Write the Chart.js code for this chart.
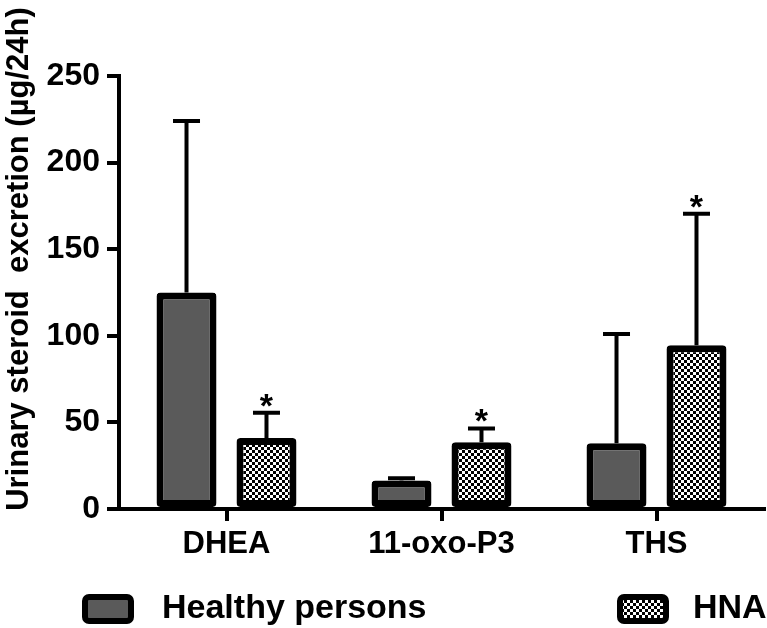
<!DOCTYPE html>
<html>
<head>
<meta charset="utf-8">
<script src="https://cdn.jsdelivr.net/npm/chart.js@4.4.0/dist/chart.umd.min.js"></script>
<style>
    body { margin: 0; background: #ffffff; }
    canvas { display: block; }
</style>
</head>
<body>
<canvas id="chart" width="767" height="628"></canvas>
<script>
// values (mean and upward SD)
const categories = ["DHEA", "11-oxo-P3", "THS"];
const healthyMean = [125, 16.5, 38];
const healthySD = [99, 1.3, 63];
const hnaMean = [41, 38.5, 94.5];
const hnaSD = [14.5, 8, 76];
const healthySig = [false, false, false];
const hnaSig = [true, true, true];
const yTicks = [0, 50, 100, 150, 200, 250];
const yTitle = "Urinary steroid  excretion (µg/24h)";

const FONT = '"Liberation Sans", Arial, sans-serif';
const canvas = document.getElementById("chart");
const mainCtx = canvas.getContext("2d");

// black / white checker fill for the HNA bars
function checkerPattern() {
    const c = document.createElement("canvas");
    c.width = 6;
    c.height = 6;
    const g = c.getContext("2d");
    g.fillStyle = "#ffffff";
    g.fillRect(0, 0, 6, 6);
    g.fillStyle = "#000000";
    g.fillRect(0, 0, 3, 3);
    g.fillRect(3, 3, 3, 3);
    return mainCtx.createPattern(c, "repeat");
}

// error bars (upper only) and asterisks
const errorBars = {
    id: "errorBars",
    afterDatasetsDraw(chart) {
        const ctx = chart.ctx;
        const yScale = chart.scales.y;
        chart.data.datasets.forEach((ds, di) => {
            const meta = chart.getDatasetMeta(di);
            meta.data.forEach((bar, i) => {
                const top = yScale.getPixelForValue(ds.data[i] + ds.sd[i]);
                ctx.save();
                ctx.strokeStyle = "#000000";
                ctx.lineWidth = 4;
                ctx.beginPath();
                ctx.moveTo(bar.x, bar.y);
                ctx.lineTo(bar.x, top);
                ctx.moveTo(bar.x - 13.5, top);
                ctx.lineTo(bar.x + 13.5, top);
                ctx.stroke();
                if (ds.sig[i]) {
                    ctx.fillStyle = "#000000";
                    ctx.font = "bold 34px " + FONT;
                    ctx.textAlign = "center";
                    ctx.textBaseline = "alphabetic";
                    ctx.fillText("*", bar.x, top + 4);
                }
                ctx.restore();
            });
        });
    }
};

// rotated y axis title and the legend row at the bottom
const extraText = {
    id: "extraText",
    afterDraw(chart) {
        const ctx = chart.ctx;
        ctx.save();
        ctx.translate(19, 259);
        ctx.rotate(-Math.PI / 2);
        ctx.fillStyle = "#000000";
        ctx.font = "bold 31px " + FONT;
        ctx.textAlign = "center";
        ctx.textBaseline = "middle";
        ctx.fillText(yTitle, 0, 0);
        ctx.restore();

        const boxX = [82, 617];
        const textX = [162, 693];
        chart.data.datasets.forEach((ds, i) => {
            ctx.save();
            ctx.beginPath();
            ctx.roundRect(boxX[i] + 3, 597, 46, 24, 4);
            ctx.fillStyle = ds.backgroundColor;
            ctx.fill();
            ctx.lineWidth = 6;
            ctx.strokeStyle = ds.borderColor;
            ctx.stroke();
            ctx.fillStyle = "#000000";
            ctx.font = "bold 34px " + FONT;
            ctx.textAlign = "left";
            ctx.textBaseline = "alphabetic";
            ctx.fillText(ds.label, textX[i], 618);
            ctx.restore();
        });
    }
};

const chart = new Chart(canvas, {
    type: "bar",
    data: {
        labels: categories,
        datasets: [
            {
                label: "Healthy persons",
                data: healthyMean,
                sd: healthySD,
                sig: healthySig,
                backgroundColor: "#5a5a5a",
                borderColor: "#000000",
                borderWidth: 7,
                borderSkipped: false,
                borderRadius: 4,
                categoryPercentage: 0.744,
                barPercentage: 0.75,
            },
            {
                label: "HNA",
                data: hnaMean,
                sd: hnaSD,
                sig: hnaSig,
                backgroundColor: checkerPattern(),
                borderColor: "#000000",
                borderWidth: 7,
                borderSkipped: false,
                borderRadius: 4,
                categoryPercentage: 0.744,
                barPercentage: 0.75,
            },
        ],
    },
    options: {
        responsive: false,
        animation: false,
        devicePixelRatio: 1,
        layout: {
            padding: { top: 76, right: 3, bottom: 59, left: 0 },
        },
        plugins: {
            legend: { display: false },
            tooltip: { enabled: false },
        },
        scales: {
            x: {
                offset: true,
                grid: {
                    offset: false,
                    drawOnChartArea: false,
                    drawTicks: true,
                    tickLength: 12,
                    lineWidth: 4,
                    color: "#000000",
                },
                border: { display: true, width: 4, color: "#000000" },
                ticks: {
                    color: "#000000",
                    font: { family: FONT, size: 31, weight: "bold" },
                    padding: 5,
                    maxRotation: 0,
                },
                afterFit(scale) {
                    scale.height = 60;
                },
            },
            y: {
                min: 0,
                max: 250,
                afterBuildTicks(scale) {
                    scale.ticks = yTicks.map(v => ({ value: v }));
                },
                grid: {
                    drawOnChartArea: false,
                    tickLength: 12,
                    lineWidth: 4,
                    color: "#000000",
                },
                border: { display: true, width: 4, color: "#000000" },
                ticks: {
                    color: "#000000",
                    font: { family: FONT, size: 32, weight: "bold" },
                    padding: 7,
                },
                afterFit(scale) {
                    scale.width = 119;
                },
            },
        },
    },
    plugins: [errorBars, extraText],
});
</script>
</body>
</html>
